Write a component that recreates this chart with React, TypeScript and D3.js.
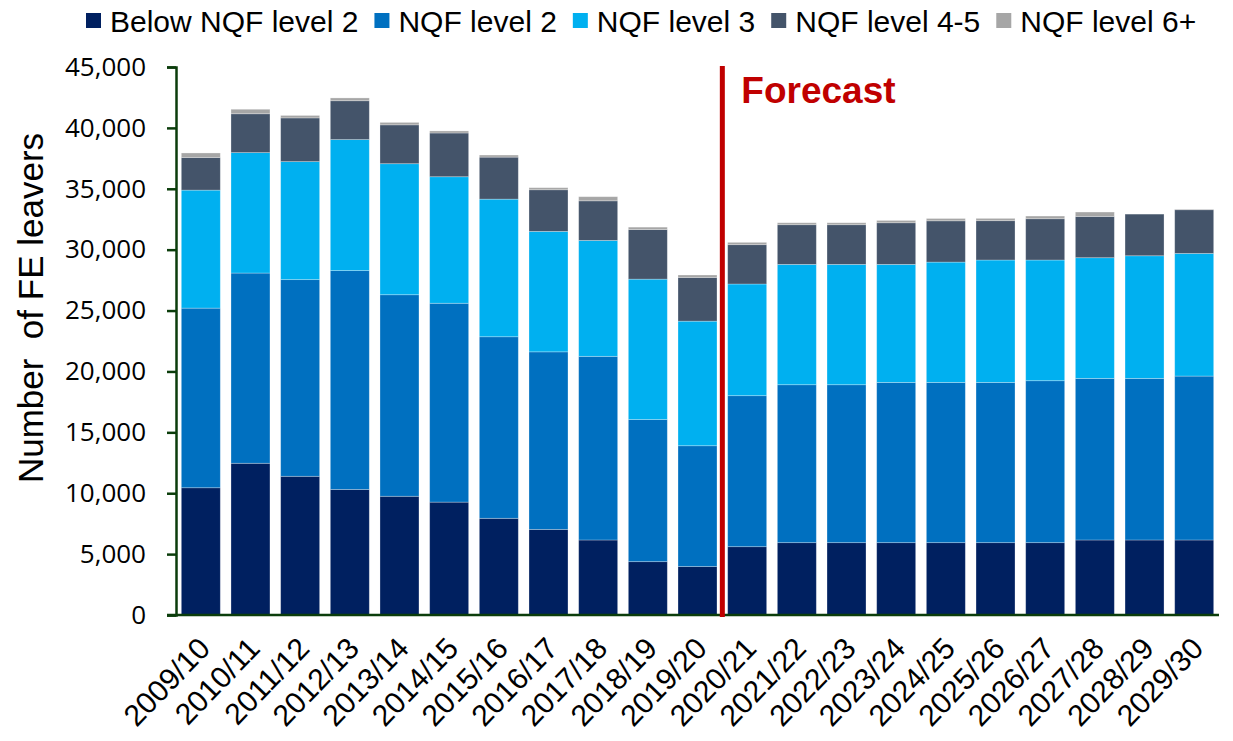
import React, { useRef, useEffect } from "react";
import * as d3 from "d3";

const years = [
  "2009/10", "2010/11", "2011/12", "2012/13", "2013/14", "2014/15", "2015/16",
  "2016/17", "2017/18", "2018/19", "2019/20", "2020/21", "2021/22", "2022/23",
  "2023/24", "2024/25", "2025/26", "2026/27", "2027/28", "2028/29", "2029/30",
];

const belowLevel2 = [10450, 12460, 11390, 10310, 9750, 9270, 7940, 7030, 6160, 4380, 3980, 5610, 5940, 5940, 5940, 5940, 5940, 5940, 6160, 6160, 6160];
const level2 = [14750, 15620, 16150, 17970, 16550, 16330, 14910, 14580, 15080, 11670, 9920, 12400, 12970, 12970, 13160, 13160, 13160, 13300, 13270, 13270, 13460];
const level3 = [9690, 9890, 9690, 10760, 10760, 10390, 11300, 9890, 9520, 11530, 10230, 9170, 9880, 9880, 9690, 9880, 10050, 9910, 9910, 10070, 10070];
const level45 = [2680, 3190, 3590, 3190, 3190, 3590, 3450, 3420, 3250, 4070, 3590, 3230, 3260, 3260, 3420, 3390, 3230, 3390, 3390, 3420, 3590];
const level6 = [370, 370, 200, 230, 200, 170, 170, 170, 340, 200, 200, 190, 160, 160, 190, 190, 190, 220, 360, 0, 40];

const seriesNames = ["Below NQF level 2", "NQF level 2", "NQF level 3", "NQF level 4-5", "NQF level 6+"];
const seriesColors = ["#002060", "#0070C0", "#00B0F0", "#44546A", "#A6A6A6"];
const yTicks = [0, 5000, 10000, 15000, 20000, 25000, 30000, 35000, 40000, 45000];
const firstForecastYear = "2020/21";

const W = 1233;
const H = 741;
const margin = { top: 67, right: 14, bottom: 126, left: 176 };
const axisColor = "#0B3D0B";

const App: React.FC = () => {
  const svgRef = useRef<SVGSVGElement>(null);

  useEffect(() => {
    if (!svgRef.current) return;
    const svg = d3.select(svgRef.current);
    svg.selectAll("*").remove();

    const rows = years.map((y, i) => ({
      year: y,
      s0: belowLevel2[i],
      s1: level2[i],
      s2: level3[i],
      s3: level45[i],
      s4: level6[i],
    }));
    const keys = ["s0", "s1", "s2", "s3", "s4"];
    const stacked = d3.stack<any>().keys(keys)(rows);

    const x = d3
      .scaleBand()
      .domain(years)
      .range([margin.left, W - margin.right])
      .paddingInner(0.215)
      .paddingOuter(0.107);

    const y = d3
      .scaleLinear()
      .domain([0, 45000])
      .range([H - margin.bottom, margin.top]);

    // bars
    svg
      .append("g")
      .selectAll("g")
      .data(stacked)
      .join("g")
      .attr("fill", (_d, i) => seriesColors[i])
      .selectAll("rect")
      .data((d) => d)
      .join("rect")
      .attr("x", (d: any) => x(d.data.year)!)
      .attr("width", x.bandwidth())
      .attr("y", (d) => y(d[1]))
      .attr("height", (d) => Math.max(0, y(d[0]) - y(d[1])))
      .attr("stroke", "rgba(255,255,255,0.35)")
      .attr("stroke-width", 0.8);

    // y axis
    const yAxis = d3
      .axisLeft(y)
      .tickValues(yTicks)
      .tickSize(9)
      .tickPadding(21)
      .tickFormat((d) => d3.format(",")(d as number));
    const gy = svg
      .append("g")
      .attr("transform", `translate(${margin.left},0)`)
      .call(yAxis);
    gy.select(".domain").attr("stroke", axisColor).attr("stroke-width", 2.5);
    gy.selectAll(".tick line").attr("stroke", axisColor).attr("stroke-width", 2.5);
    gy.selectAll(".tick text")
      .attr("fill", "#000")
      .style("font-family", "'Open Sans', sans-serif")
      .style("font-size", "26px");

    // x axis line
    svg
      .append("line")
      .attr("x1", margin.left - 9)
      .attr("x2", W - margin.right)
      .attr("y1", y(0))
      .attr("y2", y(0))
      .attr("stroke", axisColor)
      .attr("stroke-width", 2.5);

    // x labels
    svg
      .append("g")
      .selectAll("text")
      .data(years)
      .join("text")
      .attr(
        "transform",
        (d) => `translate(${x(d)! + x.bandwidth() / 2 + 11},${y(0) + 35}) rotate(-46)`
      )
      .attr("text-anchor", "end")
      .style("font-family", "'Liberation Sans', Arial, sans-serif")
      .style("font-size", "30px")
      .text((d) => d);

    // y label
    svg
      .append("text")
      .attr("transform", `translate(43,308) rotate(-90)`)
      .attr("text-anchor", "middle")
      .attr("xml:space", "preserve")
      .style("font-family", "'Liberation Sans', Arial, sans-serif")
      .style("font-size", "35px")
      .text("Number  of FE leavers");

    // forecast divider
    const step = x.step();
    const fx = x(firstForecastYear)! - (step - x.bandwidth()) / 2;
    svg
      .append("line")
      .attr("x1", fx)
      .attr("x2", fx)
      .attr("y1", margin.top - 1)
      .attr("y2", y(0) + 2)
      .attr("stroke", "#C00000")
      .attr("stroke-width", 5);
    svg
      .append("text")
      .attr("x", fx + 19)
      .attr("y", 103)
      .attr("fill", "#C00000")
      .style("font-family", "'Liberation Sans', Arial, sans-serif")
      .style("font-weight", "bold")
      .style("font-size", "37px")
      .text("Forecast");

    // legend
    const legend = svg.append("g");
    let lx = 86;
    seriesNames.forEach((name, i) => {
      legend
        .append("rect")
        .attr("x", lx)
        .attr("y", 13)
        .attr("width", 15)
        .attr("height", 15)
        .attr("fill", seriesColors[i]);
      const t = legend
        .append("text")
        .attr("x", lx + 24)
        .attr("y", 32)
        .style("font-family", "'Liberation Sans', Arial, sans-serif")
        .style("font-size", "30px")
        .text(name);
      const len = (t.node() as SVGTextElement).getComputedTextLength();
      lx = lx + 24 + len + 16;
    });
  }, []);

  return (
    <svg
      ref={svgRef}
      width={W}
      height={H}
      style={{ position: "absolute", left: 0, top: 0, background: "#fff" }}
    />
  );
};

export default App;
